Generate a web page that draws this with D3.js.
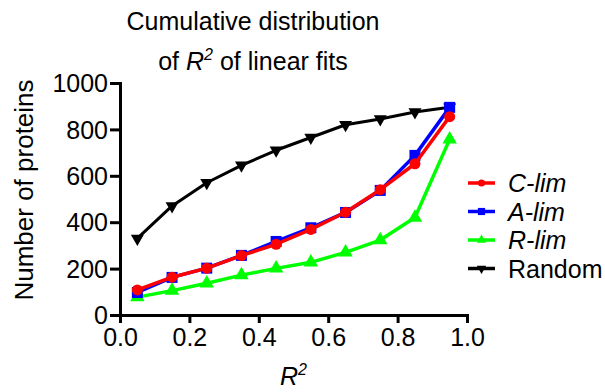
<!DOCTYPE html>
<html>
<head>
<meta charset="utf-8">
<script src="https://cdn.jsdelivr.net/npm/d3@7"></script>
<style>
  body { margin: 0; background: #fff; }
  text { font-family: "Liberation Sans", Arial, Helvetica, sans-serif; fill: #000; }
</style>
</head>
<body>
<script>
var width = 605,
    height = 392;

// data
var r2 = [0.05, 0.15, 0.25, 0.35, 0.45, 0.55, 0.65, 0.75, 0.85, 0.95];
var random = [330, 470, 570, 645, 710, 765, 820, 845, 875, 895];
var rLim = [77, 105, 137, 172, 201, 227, 270, 323, 420, 757];
var aLim = [97, 162, 202, 257, 317, 376, 442, 537, 688, 895];
var cLim = [108, 163, 202, 256, 305, 369, 443, 540, 652, 855];
var xTicks = [0, 0.2, 0.4, 0.6, 0.8, 1.0];
var yTicks = [0, 200, 400, 600, 800, 1000];

var series = [
  { name: "Random", values: random, color: "#000000", symbol: "tri", italic: false },
  { name: "R-lim", values: rLim, color: "#00ff00", symbol: "triUp", italic: true },
  { name: "A-lim", values: aLim, color: "#0000ff", symbol: "square", italic: true },
  { name: "C-lim", values: cLim, color: "#ff0000", symbol: "circle", italic: true }
];
var legendOrder = ["C-lim", "A-lim", "R-lim", "Random"];

var svg = d3.select("body")
            .append("svg")
            .attr("width", width)
            .attr("height", height);

var x = d3.scaleLinear().domain([0, 1]).range([120, 467]),
    y = d3.scaleLinear().domain([0, 1000]).range([315, 83]);

// axes
var xAxis = d3.axisBottom(x)
    .tickValues(xTicks)
    .tickFormat(d3.format(".1f"))
    .tickSizeOuter(0)
    .tickSize(8)
    .tickPadding(5);

var yAxis = d3.axisLeft(y)
    .tickValues(yTicks)
    .tickFormat(d3.format("d"))
    .tickSizeOuter(0)
    .tickSize(10)
    .tickPadding(2);

function styleAxis(g) {
  g.select(".domain").attr("stroke", "#000").attr("stroke-width", 3);
  g.selectAll(".tick line").attr("stroke", "#000").attr("stroke-width", 3);
  g.selectAll(".tick text")
    .style("font-family", '"Liberation Sans", Arial, sans-serif')
    .attr("font-size", 25);
}

svg.append("g").attr("transform", "translate(0," + y(0) + ")")
   .call(xAxis).call(styleAxis);
svg.append("g").attr("transform", "translate(" + x(0) + ",0)")
   .call(yAxis).call(styleAxis)
   .selectAll(".tick text").attr("dy", "0.35em");

// markers
function drawMarker(g, type, color, s) {
  if (type === "circle") {
    g.append("circle").attr("r", 5.5 * s).attr("fill", color);
  } else if (type === "square") {
    g.append("rect").attr("x", -5.5 * s).attr("y", -5.5 * s)
     .attr("width", 11 * s).attr("height", 11 * s).attr("fill", color);
  } else if (type === "triUp") {
    g.append("path").attr("d", d3.symbol(d3.symbolTriangle, 90 * s * s)).attr("fill", color);
  } else {
    g.append("path").attr("d", d3.symbol(d3.symbolTriangle, 90 * s * s))
     .attr("transform", "rotate(180)").attr("fill", color);
  }
}

var line = d3.line()
    .x(function(d, i) { return x(r2[i]); })
    .y(function(d) { return y(d); });

series.forEach(function(s) {
  var g = svg.append("g");
  g.append("path")
   .attr("d", line(s.values))
   .attr("fill", "none")
   .attr("stroke", s.color)
   .attr("stroke-width", s.name === "Random" ? 3 : 3.5)
   .attr("stroke-linejoin", "round");
  g.selectAll("g.pt")
   .data(s.values)
   .enter().append("g")
   .attr("transform", function(d, i) { return "translate(" + x(r2[i]) + "," + y(d) + ")"; })
   .each(function() {
     drawMarker(d3.select(this), s.symbol, s.color, s.name === "Random" ? 0.9 : 1);
   });
});

// legend
var legend = svg.append("g").attr("transform", "translate(468,183)");
legendOrder.forEach(function(name, i) {
  var s = series.find(function(d) { return d.name === name; });
  var row = legend.append("g").attr("transform", "translate(0," + (i * 28.5) + ")");
  row.append("line").attr("x1", 0).attr("x2", 27).attr("y1", 0).attr("y2", 0)
     .attr("stroke", s.color).attr("stroke-width", 3.5);
  var m = row.append("g").attr("transform", "translate(13.5,0)");
  drawMarker(m, s.symbol, s.color, 0.65);
  row.append("text").attr("x", 40).attr("y", 0).attr("dy", "0.36em")
     .attr("font-size", 25)
     .attr("font-style", s.italic ? "italic" : "normal")
     .text(name);
});

// title
svg.append("text").attr("x", 253).attr("y", 30).attr("text-anchor", "middle")
   .attr("font-size", 25).text("Cumulative distribution");
var t2 = svg.append("text").attr("x", 253).attr("y", 70).attr("text-anchor", "middle")
   .attr("font-size", 25);
t2.append("tspan").text("of ");
t2.append("tspan").attr("font-style", "italic").text("R");
t2.append("tspan").attr("font-size", 16).attr("dy", -10).attr("font-style", "italic").text("2");
t2.append("tspan").attr("dy", 10).text(" of linear fits");

// axis titles
var xl = svg.append("text").attr("x", x(0.5)).attr("y", 385).attr("text-anchor", "middle")
   .attr("font-size", 25);
xl.append("tspan").attr("font-style", "italic").text("R");
xl.append("tspan").attr("font-size", 16).attr("dy", -10).attr("font-style", "italic").text("2");

svg.append("text")
   .attr("transform", "translate(33,190) rotate(-90)")
   .attr("text-anchor", "middle")
   .attr("font-size", 26)
   .text("Number of proteins");
</script>
</body>
</html>
